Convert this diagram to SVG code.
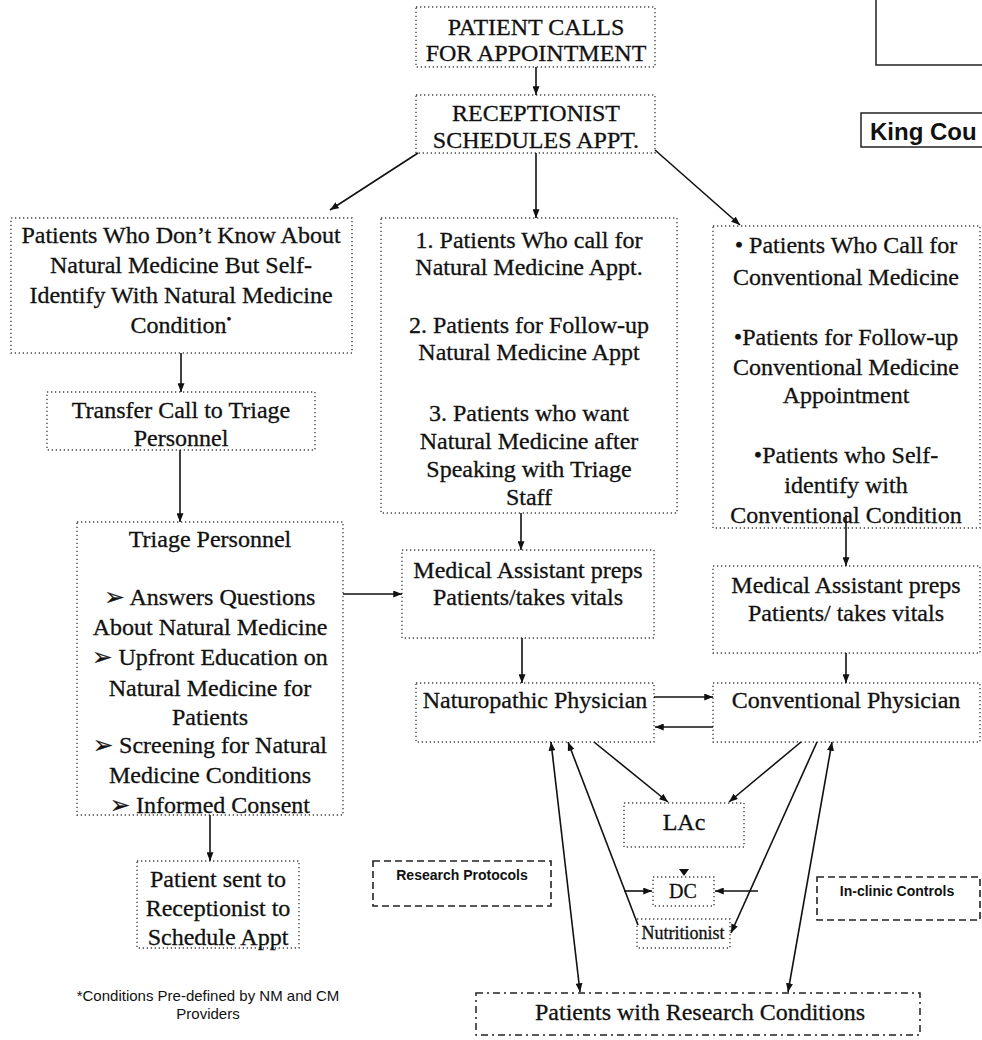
<svg xmlns="http://www.w3.org/2000/svg" width="982" height="1040" viewBox="0 0 982 1040">
<defs>
<style>
.dot{fill:none;stroke:#444;stroke-width:1.4;stroke-dasharray:1.3 2.7}
.dash{fill:none;stroke:#222;stroke-width:1.6;stroke-dasharray:7 4}
.dashdot{fill:none;stroke:#222;stroke-width:1.5;stroke-dasharray:7 4 2 4}
.solid{fill:none;stroke:#222;stroke-width:1.5}
.t{font-family:"Liberation Serif","Times New Roman","DejaVu Sans",serif;font-size:24px;fill:#111;stroke:#111;stroke-width:0.3;text-anchor:middle}
.t18{font-size:18px}
.t20{font-size:20px}
.s{font-family:"Liberation Sans",Arial,sans-serif;fill:#111;text-anchor:middle}
.c{fill:none;stroke:#111;stroke-width:1.6}
.a{marker-end:url(#ah)}
.b{marker-start:url(#ah);marker-end:url(#ah)}
</style>
<marker id="ah" viewBox="0 0 10 8" refX="10" refY="4" markerWidth="9" markerHeight="7" markerUnits="userSpaceOnUse" orient="auto-start-reverse">
<path d="M0,0 L10,4 L0,8 z" fill="#111"/>
</marker>
</defs>
<rect width="982" height="1040" fill="#fff"/>

<g id="corner-box">
<path class="solid" d="M876,-2 V65 H984"/>
</g>
<g id="king-county">
<rect class="solid" x="861" y="113" width="130" height="34"/>
<text x="870" y="140" style="font-family:'Liberation Sans',Arial,sans-serif;font-weight:bold;font-size:24px;fill:#111">King Cou</text>
</g>

<g id="patient-calls">
<rect class="dot" x="416" y="7" width="239" height="60"/>
<text class="t" x="536" y="35">PATIENT CALLS</text>
<text class="t" x="536" y="61">FOR APPOINTMENT</text>
</g>

<g id="receptionist">
<rect class="dot" x="416" y="95" width="239" height="58"/>
<text class="t" x="536" y="121">RECEPTIONIST</text>
<text class="t" x="536" y="148">SCHEDULES APPT.</text>
</g>

<g id="self-identify">
<rect class="dot" x="11" y="218" width="341" height="135"/>
<text class="t" x="181" y="243">Patients Who Don’t Know About</text>
<text class="t" x="181" y="273">Natural Medicine But Self-</text>
<text class="t" x="181" y="303">Identify With Natural Medicine</text>
<text class="t" x="181" y="333">Condition<tspan font-size="14" dy="-9">•</tspan></text>
</g>

<g id="transfer-call">
<rect class="dot" x="47" y="392" width="268" height="58"/>
<text class="t" x="181" y="418">Transfer Call to Triage</text>
<text class="t" x="181" y="446">Personnel</text>
</g>

<g id="triage">
<rect class="dot" x="77" y="522" width="266" height="293"/>
<text class="t" x="210" y="547">Triage Personnel</text>
<text class="t" x="210" y="605">➢ Answers Questions</text>
<text class="t" x="210" y="635">About Natural Medicine</text>
<text class="t" x="210" y="665">➢ Upfront Education on</text>
<text class="t" x="210" y="696">Natural Medicine for</text>
<text class="t" x="210" y="725">Patients</text>
<text class="t" x="210" y="753">➢ Screening for Natural</text>
<text class="t" x="210" y="783">Medicine Conditions</text>
<text class="t" x="210" y="813">➢ Informed Consent</text>
</g>

<g id="patient-sent">
<rect class="dot" x="137" y="861" width="162" height="87"/>
<text class="t" x="218" y="887">Patient sent to</text>
<text class="t" x="218" y="916">Receptionist to</text>
<text class="t" x="218" y="945">Schedule Appt</text>
</g>

<g id="footnote">
<text class="s" x="208" y="1001" font-size="15">*Conditions Pre-defined by NM and CM</text>
<text class="s" x="208" y="1019" font-size="15">Providers</text>
</g>

<g id="nm-patients">
<rect class="dot" x="381" y="218" width="296" height="295"/>
<text class="t" x="529" y="248">1. Patients Who call for</text>
<text class="t" x="529" y="275">Natural Medicine Appt.</text>
<text class="t" x="529" y="333">2. Patients for Follow-up</text>
<text class="t" x="529" y="360">Natural Medicine Appt</text>
<text class="t" x="529" y="421">3. Patients who want</text>
<text class="t" x="529" y="449">Natural Medicine after</text>
<text class="t" x="529" y="477">Speaking with Triage</text>
<text class="t" x="529" y="505">Staff</text>
</g>

<g id="cm-patients">
<rect class="dot" x="713" y="226" width="267" height="302"/>
<text class="t" x="846" y="253">• Patients Who Call for</text>
<text class="t" x="846" y="285">Conventional Medicine</text>
<text class="t" x="846" y="345">•Patients for Follow-up</text>
<text class="t" x="846" y="375">Conventional Medicine</text>
<text class="t" x="846" y="403">Appointment</text>
<text class="t" x="846" y="463">•Patients who Self-</text>
<text class="t" x="846" y="493">identify with</text>
<text class="t" x="846" y="523">Conventional Condition</text>
</g>

<g id="ma-nm">
<rect class="dot" x="402" y="550" width="252" height="88"/>
<text class="t" x="528" y="578">Medical Assistant preps</text>
<text class="t" x="528" y="605">Patients/takes vitals</text>
</g>

<g id="ma-cm">
<rect class="dot" x="713" y="566" width="267" height="87"/>
<text class="t" x="846" y="593">Medical Assistant preps</text>
<text class="t" x="846" y="621">Patients/ takes vitals</text>
</g>

<g id="naturopathic">
<rect class="dot" x="416" y="683" width="238" height="59"/>
<text class="t" x="535" y="708">Naturopathic Physician</text>
</g>

<g id="conventional">
<rect class="dot" x="713" y="683" width="267" height="59"/>
<text class="t" x="846" y="708">Conventional Physician</text>
</g>

<g id="lac">
<rect class="dot" x="624" y="803" width="120" height="44"/>
<text class="t" x="684" y="830">LAc</text>
</g>

<g id="dc">
<rect class="dot" x="653" y="877" width="61" height="29"/>
<text class="t t20" x="683" y="898">DC</text>
</g>

<g id="nutritionist">
<rect class="dot" x="637" y="919" width="93" height="29"/>
<text class="t t18" x="683" y="939">Nutritionist</text>
</g>

<g id="research-protocols">
<rect class="dash" x="373" y="861" width="178" height="45"/>
<text class="s" x="462" y="880" font-size="14" font-weight="bold">Research Protocols</text>
</g>

<g id="in-clinic-controls">
<rect class="dash" x="817" y="877" width="163" height="43"/>
<text class="s" x="897" y="896" font-size="14" font-weight="bold">In-clinic Controls</text>
</g>

<g id="research-conditions">
<rect class="dashdot" x="476" y="993" width="444" height="42"/>
<text class="t" x="700" y="1020">Patients with Research Conditions</text>
</g>

<g id="connectors">
<path class="c a" d="M536,67 V95"/>
<path class="c a" d="M418,153 L330,210"/>
<path class="c a" d="M536,153 V218"/>
<path class="c a" d="M655,150 L740,225"/>
<path class="c a" d="M181,353 V392"/>
<path class="c a" d="M180,450 V522"/>
<path class="c a" d="M210,815 V861"/>
<path class="c a" d="M343,594 H402"/>
<path class="c a" d="M521,513 V550"/>
<path class="c a" d="M522,638 V683"/>
<path class="c a" d="M846,515 V566"/>
<path class="c a" d="M846,653 V683"/>
<path class="c a" d="M654,697 H713"/>
<path class="c a" d="M713,727 H655"/>
<path class="c a" d="M594,742 L668,802"/>
<path class="c a" d="M801,742 L729,802"/>
<path class="c b" d="M551,742 L580,992"/>
<path class="c a" d="M638,925 L568,742"/>
<path class="c a" d="M817,742 L731,933"/>
<path class="c b" d="M832,742 L788,992"/>
<path class="c a" d="M624,891 H652"/>
<path class="c a" d="M758,891 H715"/>
<polygon points="679,869 689,869 684,876" fill="#111"/>
</g>
</svg>
